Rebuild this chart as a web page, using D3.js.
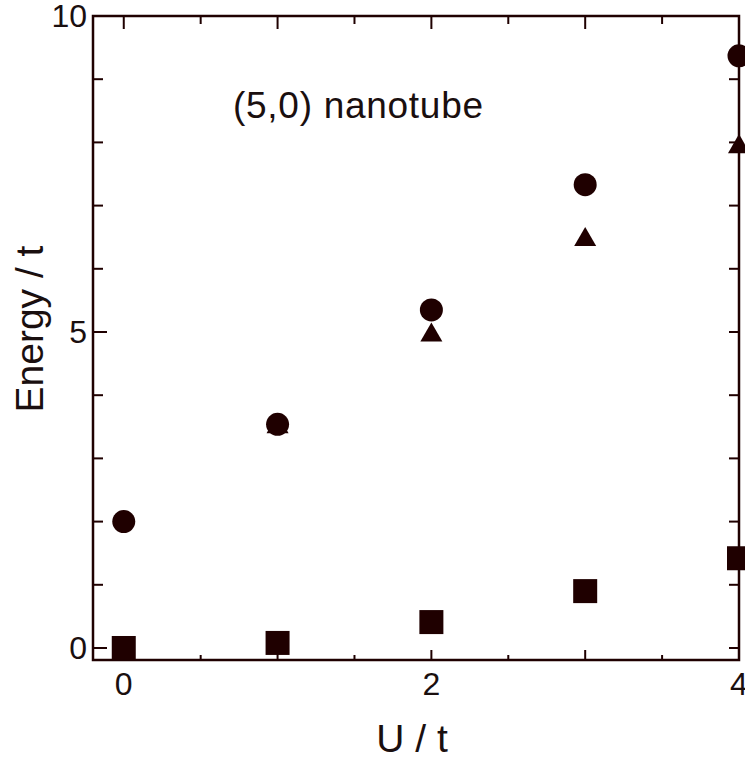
<!DOCTYPE html>
<html>
<head>
<meta charset="utf-8">
<script src="https://d3js.org/d3.v7.min.js"></script>
<style>
  body { margin: 0; background: #fff; }
  text { font-family: "Liberation Sans", Arial, sans-serif; fill: #1a0f0f; }
</style>
</head>
<body>
<svg width="745" height="758"></svg>
<script>
// U/t values and the three energy series
var uValues = [0, 1, 2, 3, 4];
var circleE = [2.0, 3.54, 5.35, 7.33, 9.37];
var triangleE = [null, 3.5, 4.95, 6.46, 7.93];
var squareE = [0.0, 0.08, 0.41, 0.9, 1.42];
var xTickLabels = [0, 2, 4];
var yTickLabels = [0, 5, 10];

var svg = d3.select("svg");
var ink = "#1f0000";

var x = d3.scaleLinear().domain([-0.2, 4]).range([93, 739]);
var y = d3.scaleLinear().domain([-0.19, 10]).range([660, 16]);

var frame = svg.append("g");

// frame
frame.append("rect")
  .attr("x", x(-0.2)).attr("y", y(10))
  .attr("width", x(4) - x(-0.2)).attr("height", y(-0.19) - y(10))
  .attr("fill", "none").attr("stroke", ink).attr("stroke-width", 2.5);

// x ticks, inward on bottom and top
var xTicks = d3.range(0, 4.01, 0.5);
xTicks.forEach(function(t) {
  var len = (t % 1 === 0) ? 10 : 5;
  if (t === 4) return;
  frame.append("line")
    .attr("x1", x(t)).attr("x2", x(t))
    .attr("y1", y(-0.19)).attr("y2", y(-0.19) - len)
    .attr("stroke", ink).attr("stroke-width", 2);
  frame.append("line")
    .attr("x1", x(t)).attr("x2", x(t))
    .attr("y1", y(10)).attr("y2", y(10) + len + 3)
    .attr("stroke", ink).attr("stroke-width", 2);
});

// y ticks, inward on left and right
d3.range(0, 10.01, 1).forEach(function(t) {
  var len = (t % 5 === 0) ? 14 : 10;
  if (t === 10) return;
  frame.append("line")
    .attr("x1", x(-0.2)).attr("x2", x(-0.2) + len)
    .attr("y1", y(t)).attr("y2", y(t))
    .attr("stroke", ink).attr("stroke-width", 2);
  frame.append("line")
    .attr("x1", x(4)).attr("x2", x(4) - 10)
    .attr("y1", y(t)).attr("y2", y(t))
    .attr("stroke", ink).attr("stroke-width", 2);
});

// tick labels
svg.selectAll(".xl").data(xTickLabels).enter().append("text")
  .attr("x", function(d) { return x(d); })
  .attr("y", 695)
  .attr("text-anchor", "middle")
  .attr("font-size", 32)
  .text(function(d) { return d; });

svg.selectAll(".yl").data(yTickLabels).enter().append("text")
  .attr("x", 87)
  .attr("y", function(d) { return y(d) + 11; })
  .attr("text-anchor", "end")
  .attr("font-size", 32)
  .text(function(d) { return d; });

// axis titles
svg.append("text")
  .attr("x", 412).attr("y", 752)
  .attr("text-anchor", "middle")
  .attr("font-size", 39)
  .text("U / t");

svg.append("text")
  .attr("transform", "translate(43," + 329 + ") rotate(-90)")
  .attr("text-anchor", "middle")
  .attr("font-size", 39)
  .text("Energy / t");

svg.append("text")
  .attr("x", 233).attr("y", 118)
  .attr("font-size", 37)
  .attr("textLength", 250)
  .text("(5,0) nanotube");

// data
var squares = uValues.map(function(u, i) { return { u: u, e: squareE[i] }; });
var triangles = uValues.map(function(u, i) { return { u: u, e: triangleE[i] }; })
  .filter(function(d) { return d.e !== null; });
var circles = uValues.map(function(u, i) { return { u: u, e: circleE[i] }; });

svg.selectAll(".sq").data(squares).enter().append("rect")
  .attr("x", function(d) { return x(d.u) - 12; })
  .attr("y", function(d) { return y(d.e) - 12; })
  .attr("width", 24).attr("height", 24)
  .attr("fill", ink);

var tri = d3.symbol().type(d3.symbolTriangle).size(210);
svg.selectAll(".tr").data(triangles).enter().append("path")
  .attr("d", tri)
  .attr("transform", function(d) { return "translate(" + x(d.u) + "," + y(d.e) + ")"; })
  .attr("fill", ink);

svg.selectAll(".ci").data(circles).enter().append("circle")
  .attr("cx", function(d) { return x(d.u); })
  .attr("cy", function(d) { return y(d.e); })
  .attr("r", 11.5)
  .attr("fill", ink);
</script>
</body>
</html>
